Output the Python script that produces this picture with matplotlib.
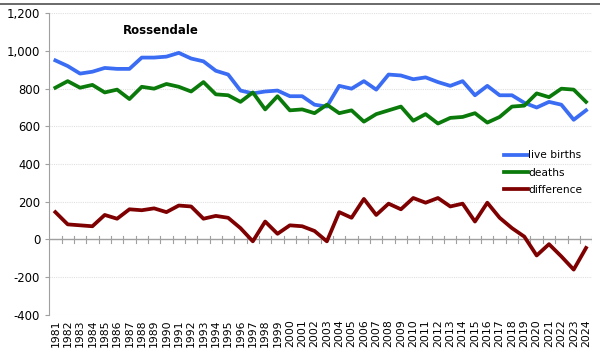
import matplotlib
matplotlib.use("Agg")
import matplotlib.pyplot as plt
import numpy as np
from matplotlib.ticker import FuncFormatter

years = list(range(1981, 2025))
live_births = [950, 920, 880, 890, 910, 905, 905, 965, 965, 970, 990, 960, 945, 895, 875,
               790, 775, 785, 790, 760, 760, 715, 705, 815, 800, 840, 795, 875, 870, 850,
               860, 835, 815, 840, 765, 815, 765, 765, 725, 700, 730, 715, 635, 685]
deaths = [805, 840, 805, 820, 780, 795, 745, 810, 800, 825, 810, 785, 835, 770, 765,
          730, 780, 690, 760, 685, 690, 670, 715, 670, 685, 625, 665, 685, 705, 630,
          665, 615, 645, 650, 670, 620, 650, 705, 710, 775, 755, 800, 795, 730]
difference = [145, 80, 75, 70, 130, 110, 160, 155, 165, 145, 180, 175, 110, 125, 115,
              60, -10, 95, 30, 75, 70, 45, -10, 145, 115, 215, 130, 190, 160, 220,
              195, 220, 175, 190, 95, 195, 115, 60, 15, -85, -25, -90, -160, -45]

fig = plt.figure(figsize=(6, 3.59), dpi=100)
ax = fig.add_axes([0.082, 0.123, 0.905, 0.84])

x = np.arange(len(years))
ax.plot(x, live_births, color='#3a6cf4', lw=2.7, label='live births')
ax.plot(x, deaths, color='#0a7a0a', lw=2.7, label='deaths')
ax.plot(x, difference, color='#7f0000', lw=2.7, label='difference')

ax.set_ylim(-400, 1200)
ax.set_xlim(-0.5, len(years) - 0.5)
ax.set_yticks(range(-400, 1201, 200))
ax.yaxis.set_major_formatter(FuncFormatter(lambda v, p: f"{int(v):,}"))
ax.grid(axis='y', color='#e0e0e0', lw=0.8, ls=(0, (1, 1)))
ax.set_axisbelow(True)

for s in ['top', 'right', 'bottom']:
    ax.spines[s].set_visible(False)
ax.spines['left'].set_color('#a0a0a0')

# zero line with crossing ticks between categories
ax.axhline(0, color='#a0a0a0', lw=1, zorder=1)
for xi in x:
    ax.plot([xi + 0.5, xi + 0.5], [-18, 18], color='#a0a0a0', lw=0.8, zorder=1)

ax.set_xticks(x)
ax.set_xticklabels([str(y) for y in years], rotation=90, fontsize=7.8)
ax.tick_params(axis='x', length=0, pad=3)
ax.tick_params(axis='y', labelsize=8.4, length=3, color='#a0a0a0')

ax.text(0.135, 0.965, 'Rossendale', transform=ax.transAxes, fontsize=8.5,
        fontweight='bold', va='top')

ax.legend(loc='upper left', bbox_to_anchor=(0.83, 0.56), frameon=False, fontsize=7.7,
          handlelength=2.2, handletextpad=0.05, labelspacing=0.7, borderaxespad=0)

fig.add_artist(plt.Line2D([0, 1], [0.988, 0.988], color='#505050', lw=1.2,
                          transform=fig.transFigure))

fig.savefig('out.png', dpi=100)
